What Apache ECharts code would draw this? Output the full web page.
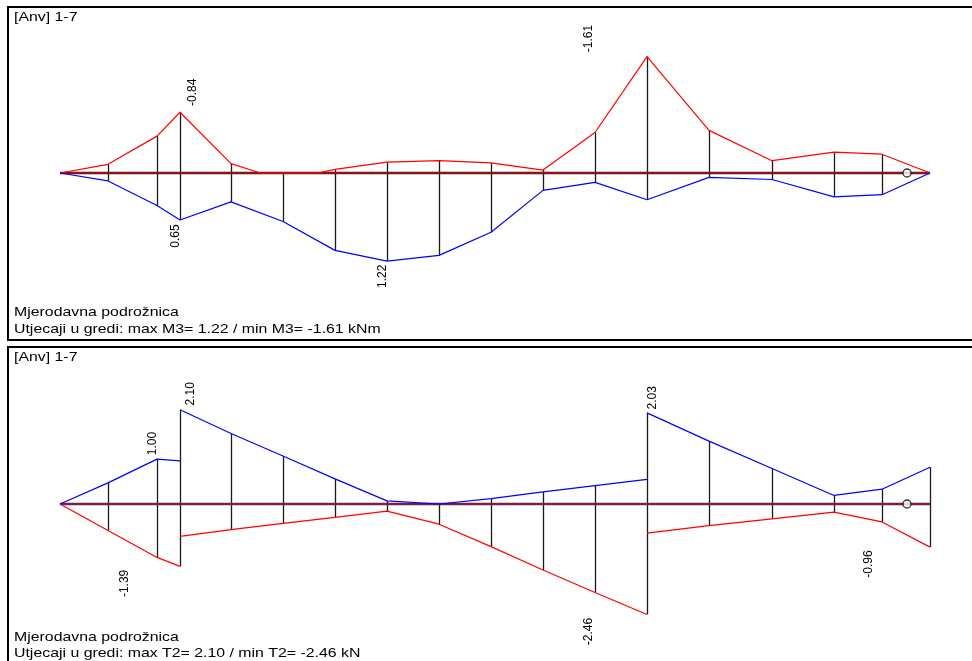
<!DOCTYPE html>
<html><head><meta charset="utf-8">
<script src="https://cdn.jsdelivr.net/npm/echarts@6/dist/echarts.min.js"></script>
<style>html,body{margin:0;padding:0;background:#fff;overflow:hidden}#c{width:972px;height:661px}</style>
</head><body><div id="c"></div>
<script>
// ---------- data ----------
const m3Stations = [0, 0.48, 0.97, 1.20, 1.71, 2.23, 2.75, 3.27, 3.79, 4.31, 4.83, 5.35, 5.87, 6.49, 7.12, 7.74, 8.22, 8.70];
const m3Max = [0, 0.11, 0.45, 0.65, 0.40, 0.67, 1.07, 1.22, 1.14, 0.82, 0.24, 0.13, 0.37, 0.06, 0.09, 0.33, 0.30, 0];
const m3Min = [0, -0.12, -0.51, -0.84, -0.13, 0.10, -0.05, -0.15, -0.17, -0.14, -0.04, -0.56, -1.61, -0.59, -0.17, -0.29, -0.26, 0];

const t2Stations = [0, 0.48, 0.97, 1.20, 1.20, 1.71, 2.23, 2.75, 3.27, 3.79, 4.31, 4.83, 5.35, 5.87, 5.87, 6.49, 7.12, 7.74, 8.22, 8.70];
const t2Max = [0, 0.47, 1.00, 0.96, 2.10, 1.57, 1.07, 0.56, 0.07, 0.00, 0.12, 0.27, 0.41, 0.55, 2.03, 1.40, 0.79, 0.19, 0.33, 0.82];
const t2Min = [0, -0.59, -1.19, -1.39, -0.72, -0.57, -0.43, -0.30, -0.16, -0.45, -0.95, -1.47, -1.97, -2.46, -0.65, -0.48, -0.33, -0.18, -0.40, -0.96];

const hingeStation = 8.47;
const beamEnd = 8.70;

const headerText = '[Anv] 1-7';
const subText = 'Mjerodavna podrožnica';
const m3Caption = 'Utjecaji u gredi: max M3= 1.22 / min M3= -1.61 kNm';
const t2Caption = 'Utjecaji u gredi: max T2= 2.10 / min T2= -2.46 kN';

// which values get a rotated label: [envelope, index]
const m3LabelRefs = [['min', 3], ['max', 3], ['max', 7], ['min', 12]];
const t2LabelRefs = [['max', 2], ['max', 4], ['min', 3], ['min', 13], ['max', 14], ['min', 19]];

// ---------- styling (pixel offsets of labels from their points) ----------
const m3LabelOffsets = [[12.5, -20], [-4, 16], [-4, 15], [-58.5, -18]];
const t2LabelOffsets = [[-4, -15.5], [10.5, -16], [-55, 17], [-58.5, 17], [5.5, -15], [-61.5, 17]];

// ---------- helpers ----------
function envelopePoints(xs, ys, sign) {
  const out = [];
  for (let i = 0; i < xs.length; i++) {
    if (i > 0) {
      const a = ys[i - 1], b = ys[i];
      if ((sign * a > 0 && sign * b < 0) || (sign * a < 0 && sign * b > 0)) {
        const t = a / (a - b);
        out.push([xs[i - 1] + t * (xs[i] - xs[i - 1]), 0]);
      }
    }
    out.push([xs[i], sign * ys[i] >= 0 ? ys[i] : 0]);
  }
  return out;
}
// line points with a break at stations that carry a jump (two values)
function brokenPoints(xs, ys) {
  const out = [];
  xs.forEach((x, i) => {
    if (i > 0 && xs[i - 1] === x) out.push([x, null]);
    out.push([x, ys[i]]);
  });
  return out;
}
function verticals(xs, maxs, mins) {
  const map = new Map();
  xs.forEach((x, i) => {
    const r = map.get(x) || [0, 0];
    r[0] = Math.min(r[0], mins[i], maxs[i]);
    r[1] = Math.max(r[1], maxs[i], mins[i]);
    map.set(x, r);
  });
  const out = [];
  map.forEach((r, x) => { if (r[1] - r[0] > 0.001) out.push([x, r[0], r[1]]); });
  return out;
}
function labelData(xs, maxs, mins, refs, offs) {
  return refs.map((r, k) => {
    const v = r[0] === 'max' ? maxs[r[1]] : mins[r[1]];
    return [xs[r[1]], v, offs[k][0], offs[k][1], v.toFixed(2)];
  });
}

const renderVertical = (params, api) => {
  const p1 = api.coord([api.value(0), api.value(1)]);
  const p2 = api.coord([api.value(0), api.value(2)]);
  return { type: 'line', shape: { x1: Math.round(p1[0]) + 0.5, y1: p1[1], x2: Math.round(p1[0]) + 0.5, y2: p2[1] },
    style: { stroke: '#1a1a1a', lineWidth: 1.3 } };
};
const makeLabelRenderer = (items) => (params, api) => {
  const d = items[params.dataIndex];
  const p = api.coord([d[0], d[1]]);
  return { type: 'text', x: p[0] + d[2], y: p[1] + d[3], rotation: Math.PI / 2,
    style: { text: d[4], fill: '#000', font: '12px "Liberation Sans", Arial, sans-serif', align: 'center', verticalAlign: 'middle' } };
};

const m3Labels = labelData(m3Stations, m3Max, m3Min, m3LabelRefs, m3LabelOffsets);
const t2Labels = labelData(t2Stations, t2Max, t2Min, t2LabelRefs, t2LabelOffsets);

const lineBase = { type: 'line', showSymbol: false, symbol: 'none', silent: true, animation: false, connectNulls: false };

const chart = echarts.init(document.getElementById('c'), null, { renderer: 'canvas' });
const textFont = '13px "Liberation Sans", Arial, sans-serif';
const txt = (x, y, t) => ({ type: 'text', x: x, y: y, scaleX: 1.22, silent: true,
  style: { text: t, font: textFont, fill: '#000', verticalAlign: 'middle', align: 'left' } });
const ln = (x1, y1, x2, y2) => ({ type: 'line', silent: true, shape: { x1, y1, x2, y2 }, style: { stroke: '#000', lineWidth: 2 } });

chart.setOption({
  animation: false,
  backgroundColor: '#fff',
  grid: [
    { left: 60, width: 870, top: 28.4, height: 289.2 },
    { left: 60, width: 870, top: 369.3, height: 269.4 }
  ],
  xAxis: [
    { gridIndex: 0, type: 'value', min: 0, max: beamEnd, show: false },
    { gridIndex: 1, type: 'value', min: 0, max: beamEnd, show: false }
  ],
  yAxis: [
    { gridIndex: 0, type: 'value', min: -2, max: 2, inverse: true, show: false },
    { gridIndex: 1, type: 'value', min: -3, max: 3, show: false }
  ],
  graphic: [
    ln(8, 7, 972, 7), ln(8, 6, 8, 341), ln(8, 340, 972, 340),
    ln(8, 347, 972, 347), ln(8, 346, 8, 661),
    txt(14, 17.5, headerText), txt(14, 312.5, subText), txt(14, 329.5, m3Caption),
    txt(14, 357.5, headerText), txt(14, 637, subText), txt(14, 653, t2Caption)
  ],
  series: [
    // --- top panel: M3 ---
    { type: 'custom', xAxisIndex: 0, yAxisIndex: 0, data: verticals(m3Stations, m3Max, m3Min),
      encode: { x: 0, y: [1, 2] }, renderItem: renderVertical, silent: true, z: 1 },
    Object.assign({}, lineBase, { xAxisIndex: 0, yAxisIndex: 0, data: [[0, 0], [beamEnd, 0]], lineStyle: { color: '#222', width: 2.5 }, z: 2 }),
    Object.assign({}, lineBase, { xAxisIndex: 0, yAxisIndex: 0, data: [[0, 0], [beamEnd, 0]], lineStyle: { color: '#ff0000', width: 1.2 }, z: 3 }),
    Object.assign({}, lineBase, { xAxisIndex: 0, yAxisIndex: 0, data: envelopePoints(m3Stations, m3Min, -1), lineStyle: { color: '#ff0000', width: 1.2 }, z: 4 }),
    Object.assign({}, lineBase, { xAxisIndex: 0, yAxisIndex: 0, data: envelopePoints(m3Stations, m3Max, 1), lineStyle: { color: '#0000ff', width: 1.2 }, z: 4 }),
    { type: 'scatter', xAxisIndex: 0, yAxisIndex: 0, data: [[hingeStation, 0]], symbol: 'circle', symbolSize: 8,
      itemStyle: { color: '#fff', borderColor: '#000', borderWidth: 1.3 }, silent: true, z: 5 },
    { type: 'custom', xAxisIndex: 0, yAxisIndex: 0, data: m3Labels.map(d => [d[0], d[1]]), encode: { x: 0, y: 1 },
      renderItem: makeLabelRenderer(m3Labels), silent: true, z: 6 },
    // --- bottom panel: T2 ---
    { type: 'custom', xAxisIndex: 1, yAxisIndex: 1, data: verticals(t2Stations, t2Max, t2Min),
      encode: { x: 0, y: [1, 2] }, renderItem: renderVertical, silent: true, z: 1 },
    Object.assign({}, lineBase, { xAxisIndex: 1, yAxisIndex: 1, data: [[0, 0], [beamEnd, 0]], lineStyle: { color: '#7d1e46', width: 2.5 }, z: 2 }),
    Object.assign({}, lineBase, { xAxisIndex: 1, yAxisIndex: 1, data: brokenPoints(t2Stations, t2Min), lineStyle: { color: '#ff0000', width: 1.2 }, z: 4 }),
    Object.assign({}, lineBase, { xAxisIndex: 1, yAxisIndex: 1, data: brokenPoints(t2Stations, t2Max), lineStyle: { color: '#0000ff', width: 1.2 }, z: 4 }),
    { type: 'scatter', xAxisIndex: 1, yAxisIndex: 1, data: [[hingeStation, 0]], symbol: 'circle', symbolSize: 8,
      itemStyle: { color: '#fff', borderColor: '#000', borderWidth: 1.3 }, silent: true, z: 5 },
    { type: 'custom', xAxisIndex: 1, yAxisIndex: 1, data: t2Labels.map(d => [d[0], d[1]]), encode: { x: 0, y: 1 },
      renderItem: makeLabelRenderer(t2Labels), silent: true, z: 6 }
  ]
});
</script>
</body></html>
